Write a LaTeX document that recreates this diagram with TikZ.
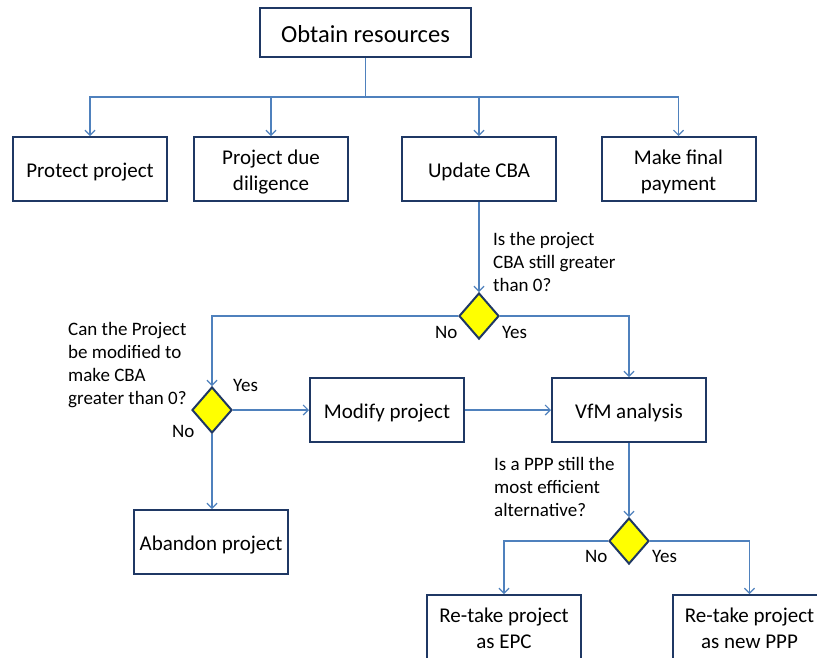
\documentclass[tikz,border=0pt]{standalone}
\usepackage{fontspec}
\setmainfont{Carlito}
\usetikzlibrary{arrows.meta,shapes.geometric}
\definecolor{navy}{RGB}{31,56,100}
\definecolor{connc}{RGB}{79,129,189}
\definecolor{dyellow}{RGB}{255,255,0}
\newcommand\bxt[2][-3pt]{\raisebox{#1}[\height][\depth]{\begin{tabular}{@{}c@{}}#2\end{tabular}}}
\tikzset{
 box/.style={draw=navy, line width=2pt, fill=white, minimum width=154pt, minimum height=64pt, inner sep=2pt, font=\fontsize{21}{26}\selectfont},
 dec/.style={diamond, draw=navy, line width=2pt, fill=dyellow, minimum width=40pt, minimum height=46pt, inner sep=0pt},
 link/.style={draw=connc, line width=1.2pt},
 arr/.style={link, -{Straight Barb[length=5pt,width=10pt]}},
 lbl/.style={inner sep=0pt, anchor=base west, font=\fontsize{19}{23}\selectfont},
}
\begin{document}
\begin{tikzpicture}[x=1pt,y=-1pt]
\path[use as bounding box, clip] (0,0) rectangle (817,657);
\fill[white] (0,0) rectangle (817,657);
% nodes
\node[box, minimum width=211pt, minimum height=49pt, font=\fontsize{24.5}{29}\selectfont] (obtain) at (365.5,32.5) {\bxt[-4pt]{Obtain resources}};
\node[box] (protect) at (90,169) {\bxt{Protect project}};
\node[box] (dilig) at (271,169) {\bxt{Project due\\diligence}};
\node[box] (update) at (479,169) {\bxt{Update CBA}};
\node[box] (final) at (678.5,169) {\bxt{Make final\\payment}};
\node[dec] (d1) at (479,316) {};
\node[box] (modify) at (387,410) {\bxt{Modify project}};
\node[box] (vfm) at (629,410) {\bxt{VfM analysis}};
\node[dec] (d2) at (212,410) {};
\node[box] (abandon) at (211,542) {\bxt{Abandon project}};
\node[dec] (d3) at (629,541) {};
\node[box] (epc) at (504,627) {\bxt{Re-take project\\as EPC}};
\node[box] (ppp) at (749.5,627) {\bxt{Re-take project\\as new PPP}};
% labels
\node[lbl] (q1) at (493,245) {\parbox[t]{200pt}{Is the project\\CBA still greater\\than 0?}};
\node[lbl] (q2) at (68,335) {\parbox[t]{200pt}{Can the Project\\be modified to\\make CBA\\greater than 0?}};
\node[lbl] (q3) at (494,470) {\parbox[t]{200pt}{Is a PPP still the\\most efficient\\alternative?}};
\node[lbl] (n1) at (435,338) {No};
\node[lbl] (y1) at (502,338) {Yes};
\node[lbl] (y2) at (233,391) {Yes};
\node[lbl] (n2) at (172,437) {No};
\node[lbl] (n3) at (585,562) {No};
\node[lbl] (y3) at (652,562) {Yes};
% connectors
\coordinate (bus) at (365.5,97);
\draw[link] (obtain.south) -- (bus);
\draw[arr] (bus) -| (protect.north);
\draw[arr] (bus) -| (dilig.north);
\draw[arr] (bus) -| (update.north);
\draw[arr] (bus) -| (final.north);
\draw[arr] (update.south) -- (d1.north);
\draw[arr] (d1.east) -| (vfm.north);
\draw[arr] (d1.west) -| (d2.north);
\draw[arr] (d2.east) -- (modify.west);
\draw[arr] (modify.east) -- (vfm.west);
\draw[arr] (d2.south) -- (d2.south |- abandon.north);
\draw[arr] (vfm.south) -- (d3.north);
\draw[arr] (d3.west) -| (epc.north);
\draw[arr] (d3.east) -| (ppp.north);
\end{tikzpicture}
\end{document}
